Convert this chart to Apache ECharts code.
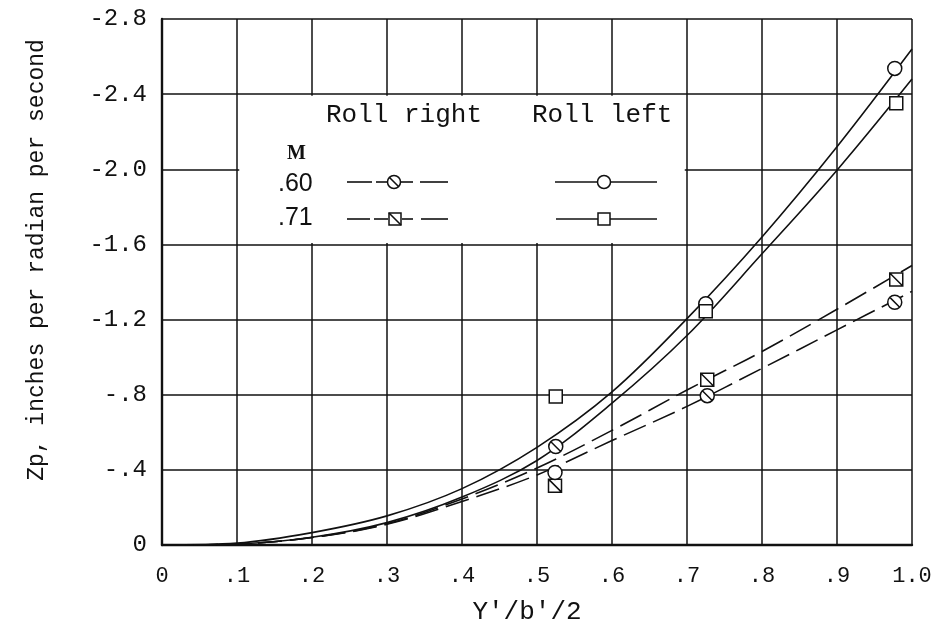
<!DOCTYPE html>
<html><head><meta charset="utf-8">
<script src="https://cdn.jsdelivr.net/npm/echarts@6/dist/echarts.min.js"></script>
<style>html,body{margin:0;padding:0;background:#fff}#c{width:939px;height:630px}</style>
</head><body><div id="c"></div>
<script>
// ---- data ----
const xTicks = [0, 0.1, 0.2, 0.3, 0.4, 0.5, 0.6, 0.7, 0.8, 0.9, 1.0];
const yTicks = [0, -0.4, -0.8, -1.2, -1.6, -2.0, -2.4, -2.8];

// faired curves, sampled at xFair
const xFair = [0, 0.1, 0.2, 0.3, 0.4, 0.5, 0.6, 0.7, 0.8, 0.9, 1.0];
const fairLeftUpper  = [0, -0.01, -0.066, -0.155, -0.30, -0.52, -0.815, -1.205, -1.64, -2.12, -2.64];
const fairLeftLower  = [0, -0.005, -0.041, -0.119, -0.255, -0.45, -0.755, -1.115, -1.55, -1.995, -2.48];
const fairRight71    = [0, -0.005, -0.04, -0.113, -0.245, -0.41, -0.61, -0.825, -1.03, -1.255, -1.488];
const fairRight60    = [0, -0.005, -0.04, -0.11, -0.232, -0.373, -0.556, -0.738, -0.94, -1.145, -1.35];

// test points
const right60X = [0.525, 0.727, 0.977];
const right60Y = [-0.524, -0.795, -1.292];
const right71X = [0.524, 0.727, 0.979];
const right71Y = [-0.316, -0.88, -1.413];
const left60X  = [0.524, 0.725, 0.977];
const left60Y  = [-0.386, -1.284, -2.537];
const left71X  = [0.525, 0.725, 0.979];
const left71Y  = [-0.79, -1.244, -2.352];

// ---- chart ----
const mono = '"Liberation Mono", "DejaVu Sans Mono", monospace';
const ink = '#111';
const pair = (xs, ys) => xs.map((x, i) => [x, ys[i]]);

const circSlash = 'path://M0,10A10,10,0,1,1,20,10A10,10,0,1,1,0,10ZM3,3L17,17';
const sqSlash = 'path://M0,0L20,0L20,20L0,20ZM0,0L20,20';

function fmtY(v){ if (Math.abs(v) < 1e-9) return '0'; let s = Math.abs(v).toFixed(1); if (s[0]==='0') s = s.slice(1); return '-' + s; }
function fmtX(v){ if (Math.abs(v) < 1e-9) return '0'; let s = v.toFixed(1); if (s[0]==='0') s = s.slice(1); return s; }

function fairSeries(name, ys, dashed, extra){
  return Object.assign({
    name, type:'line', data: pair(xFair, ys), smooth: 0.35, showSymbol:false, symbol:'none',
    lineStyle:{color:ink, width:1.6, type: dashed ? [24, 8] : 'solid'}, z:3, silent:true
  }, extra || {});
}
function pointSeries(name, xs, ys, symbol, size){
  return {name, type:'scatter', data: pair(xs, ys), symbol, symbolSize:size, symbolKeepAspect:true,
    itemStyle:{color:'#fff', borderColor:ink, borderWidth:1.5, opacity:1}, z:5, silent:true};
}

const chart = echarts.init(document.getElementById('c'), null, {renderer:'canvas'});

const G = [];
function line(x1,y1,x2,y2,z){ G.push({type:'line', z:z||100, shape:{x1,y1,x2,y2}, style:{stroke:ink, lineWidth:1.6}}); }
function circ(cx,cy,slash){ G.push({type:'circle', z:101, shape:{cx,cy,r:6.5}, style:{fill:'#fff', stroke:ink, lineWidth:1.5}});
  if (slash) line(cx-4.5,cy-4.5,cx+4.5,cy+4.5,102); }
function sq(cx,cy,slash){ G.push({type:'rect', z:101, shape:{x:cx-6,y:cy-6,width:12,height:12}, style:{fill:'#fff', stroke:ink, lineWidth:1.5}});
  if (slash) line(cx-6,cy-6,cx+6,cy+6,102); }
function txt(t,x,y,font,align){ G.push({type:'text', z:100, style:{text:t, x, y, align:align||'left', verticalAlign:'middle', font, fill:ink}}); }

// legend block
txt('Roll right', 326, 115, '26px ' + mono);
txt('Roll left', 532, 115, '26px ' + mono);
txt('M', 287, 154, 'bold 20px "Liberation Serif", serif');
txt('.60', 278, 184, '25px "Liberation Sans", Arial, sans-serif');
txt('.71', 278, 218, '25px "Liberation Sans", Arial, sans-serif');
line(347,182,372,182); line(376,182,388,182); line(400,182,413,182); line(420,182,448,182); circ(394,182,true);
line(347,219,370,219); line(374,219,388,219); line(402,219,413,219); line(421,219,448,219); sq(395,219,true);
line(555,182,657,182); circ(604,182,false);
line(556,219,657,219); sq(604,219,false);

// axis titles
G.push({type:'text', z:100, x:37, y:260, rotation:Math.PI/2,
  style:{text:'Zp, inches per radian per second', x:0, y:0, align:'center', verticalAlign:'middle', font:'23px ' + mono, fill:ink}});
txt("Y'/b'/2", 527, 612, '26px ' + mono, 'center');

chart.setOption({
  animation:false,
  backgroundColor:'#fff',
  grid:{left:162, top:19, width:750, height:526, containLabel:false},
  xAxis:{type:'value', min:0, max:1, interval:0.1,
    axisLine:{show:true, lineStyle:{color:ink, width:2.4}},
    axisTick:{show:false},
    splitLine:{show:true, lineStyle:{color:ink, width:1.5}},
    axisLabel:{formatter:fmtX, color:ink, fontFamily:mono, fontSize:22, margin:20}},
  yAxis:{type:'value', min:-2.8, max:0, interval:0.4, inverse:true,
    axisLine:{show:true, lineStyle:{color:ink, width:2.4}},
    axisTick:{show:false},
    splitLine:{show:true, lineStyle:{color:ink, width:1.5}},
    axisLabel:{formatter:fmtY, color:ink, fontFamily:mono, fontSize:24, margin:15}},
  series:[
    fairSeries('Roll left .60 fairing', fairLeftUpper, false, {
      markArea:{silent:true, itemStyle:{color:'#fff', borderWidth:0},
        data:[[{coord:[0.103, -2.392]}, {coord:[0.697, -1.608]}]]}}),
    fairSeries('Roll left .71 fairing', fairLeftLower, false),
    fairSeries('Roll right .71 fairing', fairRight71, true),
    fairSeries('Roll right .60 fairing', fairRight60, true),
    pointSeries('Roll right M .60', right60X, right60Y, circSlash, 14),
    pointSeries('Roll right M .71', right71X, right71Y, sqSlash, 13),
    pointSeries('Roll left M .60', left60X, left60Y, 'circle', 14),
    pointSeries('Roll left M .71', left71X, left71Y, 'rect', 13)
  ],
  graphic: G
});
</script></body></html>
